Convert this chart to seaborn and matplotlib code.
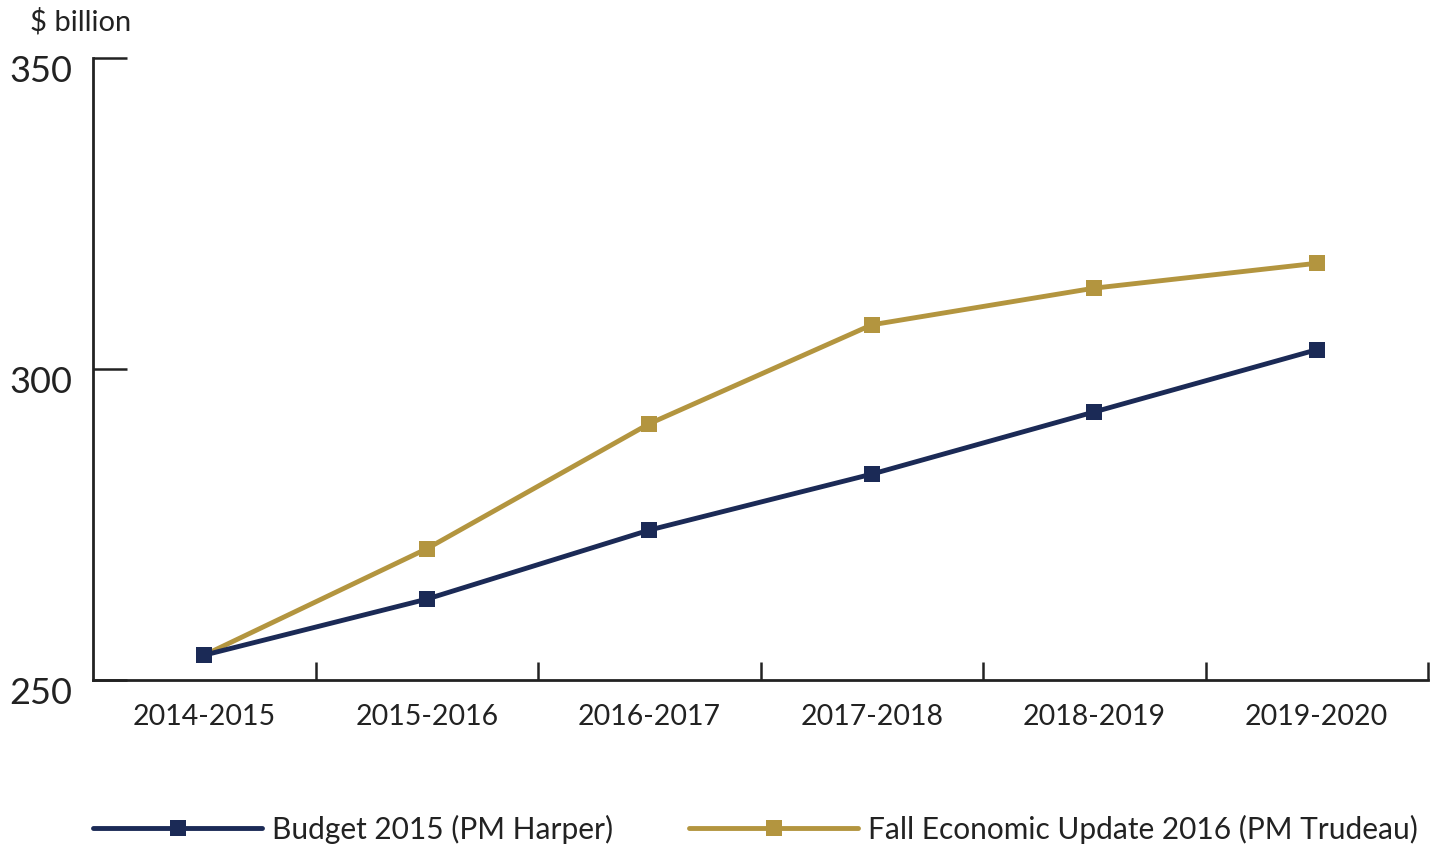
import matplotlib
matplotlib.use("Agg")
import matplotlib.pyplot as plt
import matplotlib.transforms as mtransforms
from matplotlib.lines import Line2D
import seaborn as sns
import pandas as pd
import numpy as np

years = ["2014-2015", "2015-2016", "2016-2017", "2017-2018", "2018-2019", "2019-2020"]
budget_2015 = [254.0, 263.0, 274.1, 283.1, 293.1, 303.1]
fall_2016 = [254.0, 271.1, 291.2, 307.1, 313.0, 317.0]
series_names = ["Budget 2015 (PM Harper)", "Fall Economic Update 2016 (PM Trudeau)"]
y_ticks = [250, 300, 350]

sns.set_theme(style="white")
plt.rcParams["font.family"] = ["Lato", "DejaVu Sans"]

df = pd.DataFrame({
    "year": years * 2,
    "value": budget_2015 + fall_2016,
    "series": [series_names[0]] * len(years) + [series_names[1]] * len(years),
})

navy = "#1b2a56"
gold = "#b3953f"
text_c = "#222222"

fig = plt.figure(figsize=(14.55, 8.46), dpi=100)
ax = fig.add_axes([93/1455, 1 - 680/846, (1428-93)/1455, (680-58)/846])

sns.lineplot(data=df, x="year", y="value", hue="series", palette=[navy, gold],
             hue_order=series_names,
             marker="s", markersize=11.5, markeredgewidth=0, linewidth=3.5,
             sort=False, ax=ax, legend=False)
for line in ax.lines:
    if line.get_color() == navy:
        line.set_zorder(5)

ax.set_xlim(-0.5, len(years) - 0.5)
ax.set_ylim(250, 350)
ax.set_xlabel("")
ax.set_ylabel("")

for s in ["top", "right"]:
    ax.spines[s].set_visible(False)
for s in ["left", "bottom"]:
    ax.spines[s].set_color(text_c)
    ax.spines[s].set_linewidth(2)

ax.set_xticks(np.arange(len(years)) + 0.5)
ax.set_xticklabels([])
ax.set_xticks(np.arange(len(years)), minor=True)
ax.set_xticklabels(years, minor=True)
ax.tick_params(axis="x", which="major", bottom=True, direction="in", length=13, width=1.8, color=text_c)
ax.tick_params(axis="x", which="minor", bottom=True, length=0, pad=17, labelsize=20.5, labelcolor=text_c)

ax.set_yticks(y_ticks)
ax.set_yticklabels([str(v) for v in y_ticks])
ax.tick_params(axis="y", left=True, direction="in", length=24.5, width=1.8, color=text_c,
               pad=15, labelsize=26, labelcolor=text_c)
offset = mtransforms.ScaledTranslation(0, -10/100, fig.dpi_scale_trans)
for lbl in ax.get_yticklabels():
    lbl.set_transform(lbl.get_transform() + offset)

fig.text(30/1455, 1 - 22/846, "$ billion", fontsize=21, color=text_c, va="center", ha="left")

handles = [Line2D([0], [0], color=navy, lw=3.5, marker="s", markersize=11.5, markeredgewidth=0),
           Line2D([0], [0], color=gold, lw=3.5, marker="s", markersize=11.5, markeredgewidth=0)]
leg = fig.legend(handles, series_names, loc="center left", bbox_to_anchor=(93/1455, 1 - 829/846),
                 ncol=2, frameon=False, fontsize=21.5, handlelength=5.66, handletextpad=0.33,
                 columnspacing=2.55, borderaxespad=0, borderpad=0)
for t in leg.get_texts():
    t.set_color(text_c)

fig.savefig("out.png", dpi=100, facecolor="white")
